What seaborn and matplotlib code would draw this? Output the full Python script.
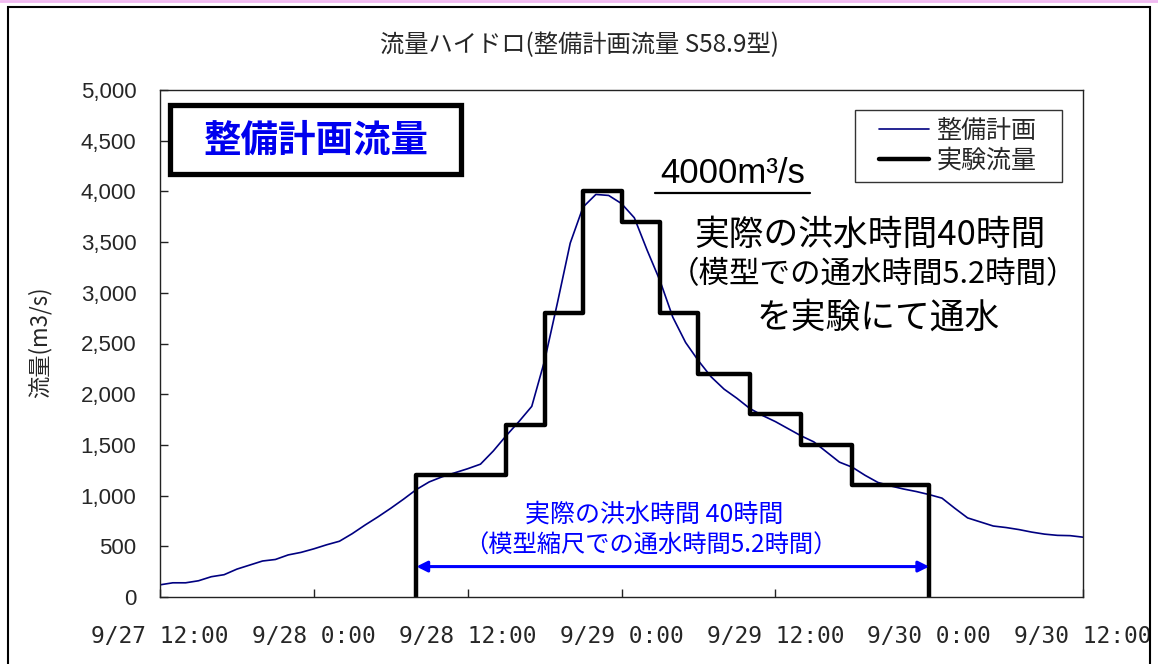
import matplotlib
matplotlib.use("Agg")
import matplotlib.pyplot as plt
import pandas as pd
import seaborn as sns
from matplotlib.patches import Rectangle
from matplotlib.lines import Line2D

sns.set_style("ticks")
plt.rcParams['font.family'] = ['Noto Sans CJK JP', 'DejaVu Sans']

# 整備計画流量 (1時間ごと、9/27 12:00 からの経過時間)
plan_hours = list(range(0, 73))
plan_flow = [120, 140, 140, 160, 200, 220, 275, 315, 355, 370,
             415, 440, 475, 515, 550, 625, 710, 790, 875, 965,
             1060, 1135, 1185, 1225, 1265, 1310, 1440, 1590, 1730, 1880,
             2330, 2900, 3490, 3845, 3970, 3960, 3880, 3740, 3420, 3120,
             2760, 2510, 2330, 2170, 2050, 1960, 1860, 1790, 1730, 1660,
             1590, 1530, 1430, 1330, 1280, 1200, 1130, 1095, 1065, 1040,
             1010, 975, 875, 780, 740, 700, 685, 665, 640, 620,
             608, 605, 590]

# 実験流量 (階段状)
exp_hours = [20, 20, 27, 30, 33, 36, 39, 42, 46, 50, 54, 60]
exp_flow = [0, 1200, 1700, 2800, 4000, 3700, 2800, 2200, 1800, 1500, 1100, 0]

tick_hours = [0, 12, 24, 36, 48, 60, 72]
tick_labels = ["9/27 12:00", "9/28 0:00", "9/28 12:00", "9/29 0:00",
               "9/29 12:00", "9/30 0:00", "9/30 12:00"]
y_ticks = list(range(0, 5001, 500))

df_plan = pd.DataFrame({"hour": plan_hours, "flow": plan_flow})
df_exp = pd.DataFrame({"hour": exp_hours, "flow": exp_flow})

fig = plt.figure(figsize=(11.58, 6.64), dpi=100)
ax = fig.add_axes([160 / 1158, 67 / 664, 923 / 1158, 507 / 664])

sns.lineplot(data=df_plan, x="hour", y="flow", ax=ax, color="#000080",
             linewidth=1.2, label="整備計画", estimator=None, sort=False)
sns.lineplot(data=df_exp, x="hour", y="flow", ax=ax, color="black",
             linewidth=3.2, label="実験流量", estimator=None, sort=False,
             drawstyle="steps-post")

ax.set_xlim(0, 72)
ax.set_ylim(0, 5000)
ax.set_xticks(tick_hours)
ax.set_xticklabels(tick_labels, family="DejaVu Sans Mono", fontsize=16.5)
ax.set_yticks(y_ticks)
ax.set_yticklabels([f"{v:,}" for v in y_ticks], family="Liberation Sans", fontsize=16)
ax.set_xlabel("")
ax.set_ylabel("")
ax.tick_params(axis="both", direction="in", length=6, width=1, color="#222222")
ax.tick_params(axis="y", pad=17)
ax.tick_params(axis="x", pad=20)
for s in ax.spines.values():
    s.set_visible(True)
    s.set_linewidth(1.0)
    s.set_color("#222222")

# 凡例 (枠は別に描く)
ax.add_patch(Rectangle((0.753, 0.8185), 0.2243, 0.142, transform=ax.transAxes,
                       facecolor="white", edgecolor="#333333", linewidth=1.0,
                       zorder=4))
leg = ax.legend(loc="center left", bbox_to_anchor=(0.779, 0.8895), borderaxespad=0,
                fontsize=18, frameon=False, handlelength=2.0, borderpad=0,
                labelspacing=0.15, handletextpad=0.3)
leg.set_zorder(6)

# 整備計画流量 の枠
ax.add_patch(Rectangle((0.0103, 0.8353), 0.3153, 0.1361, transform=ax.transAxes,
                       fill=True, facecolor="white", edgecolor="black",
                       linewidth=3.8, zorder=5))
ax.text(0.169, 0.9014, "整備計画流量", transform=ax.transAxes, ha="center",
        va="center", fontsize=27, fontweight="bold", color="#0000ee", zorder=6)

ax.text(0.6208, 0.835, "4000m³/s", transform=ax.transAxes, ha="center",
        va="center", fontsize=25, color="black", family="Liberation Sans")
ax.add_line(Line2D([0.5363, 0.7042], [0.797, 0.797], transform=ax.transAxes,
                   color="black", linewidth=1.6))
ax.text(0.7692, 0.714, "実際の洪水時間40時間", transform=ax.transAxes, ha="center",
        va="center", fontsize=25, color="black")
ax.text(0.7725, 0.635, "（模型での通水時間5.2時間）", transform=ax.transAxes,
        ha="center", va="center", fontsize=22, color="black")
ax.text(0.7779, 0.5503, "を実験にて通水", transform=ax.transAxes, ha="center",
        va="center", fontsize=25, color="black")

ax.annotate("", xy=(20, 300), xytext=(60, 300),
            arrowprops=dict(arrowstyle="<|-|>", color="#0000ff", lw=2.2,
                            mutation_scale=16, shrinkA=0, shrinkB=0))
ax.text(0.5352, 0.1617, "実際の洪水時間 40時間", transform=ax.transAxes,
        ha="center", va="center", fontsize=18, color="#0000ff")
ax.text(0.532, 0.1006, "（模型縮尺での通水時間5.2時間）", transform=ax.transAxes,
        ha="center", va="center", fontsize=17.5, color="#0000ff")

fig.text(580 / 1158, 1 - 45 / 664, "流量ハイドロ(整備計画流量 S58.9型)",
         ha="center", va="center", fontsize=17.5)
fig.text(40 / 1158, 1 - 342 / 664, "流量(m3/s)", rotation=90, ha="center",
         va="center", fontsize=16)

# 外枠
fig.add_artist(Rectangle((8 / 1158, -0.01), 1142 / 1158, 1.01 - 7 / 664,
                         transform=fig.transFigure, fill=False,
                         edgecolor="black", linewidth=1.5))
fig.add_artist(Line2D([0, 1], [1 - 1 / 664, 1 - 1 / 664], transform=fig.transFigure,
                      color="#f0b8f0", linewidth=2))

fig.savefig("out.png", dpi=100)
